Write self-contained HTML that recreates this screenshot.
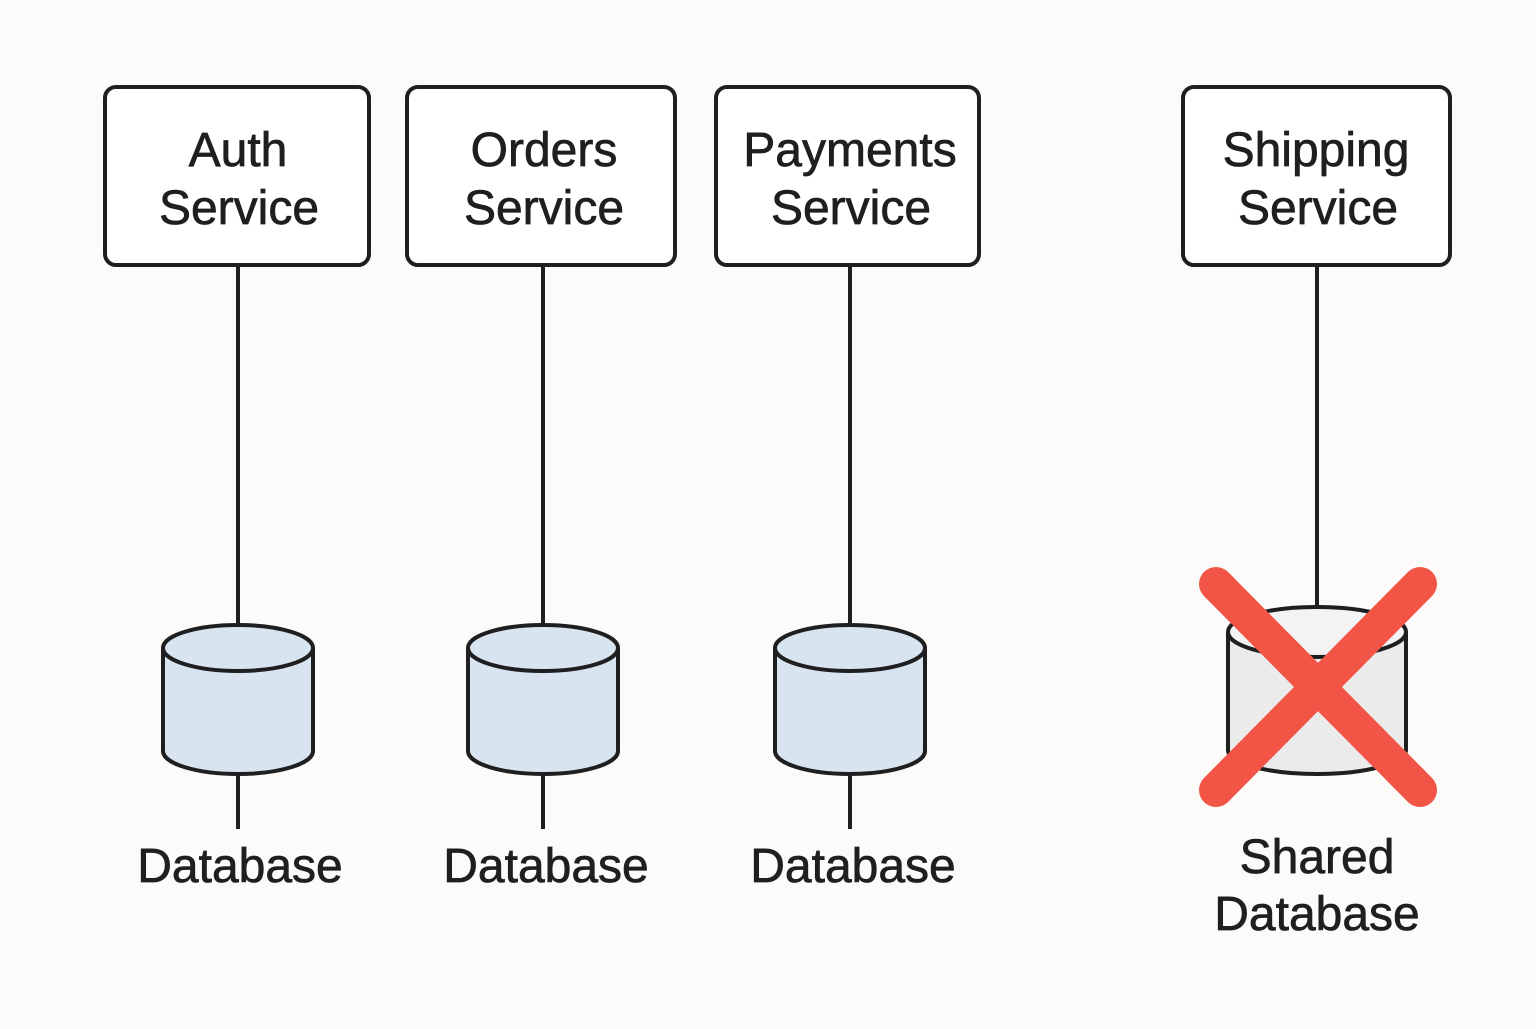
<!DOCTYPE html>
<html><head><style>html,body{margin:0;padding:0;background:#fcfbf9;}</style></head><body>
<svg width="1536" height="1024" viewBox="0 0 1536 1024" xmlns="http://www.w3.org/2000/svg">
<rect width="1536" height="1024" fill="#fcfbf9"/>
<g fill="#fff" stroke="#1f1f1f" stroke-width="4">
<rect x="105" y="87" width="264" height="178" rx="11"/>
<rect x="407" y="87" width="268" height="178" rx="11"/>
<rect x="716" y="87" width="263" height="178" rx="11"/>
<rect x="1183" y="87" width="267" height="178" rx="11"/>
</g>
<g stroke="#1f1f1f" stroke-width="4">
<line x1="238" y1="265" x2="238" y2="626"/><line x1="238" y1="774" x2="238" y2="829"/>
<line x1="543" y1="265" x2="543" y2="626"/><line x1="543" y1="774" x2="543" y2="829"/>
<line x1="850" y1="265" x2="850" y2="626"/><line x1="850" y1="774" x2="850" y2="829"/>
<line x1="1317" y1="265" x2="1317" y2="608"/>
</g>
<g stroke="#1f1f1f" stroke-width="4" fill="#d8e5f1">
<path d="M163 648 V751 A75 23 0 0 0 313 751 V648"/><ellipse cx="238" cy="648" rx="75" ry="23"/>
<path d="M468 648 V751 A75 23 0 0 0 618 751 V648"/><ellipse cx="543" cy="648" rx="75" ry="23"/>
<path d="M775 648 V751 A75 23 0 0 0 925 751 V648"/><ellipse cx="850" cy="648" rx="75" ry="23"/>
</g>
<g stroke="#1f1f1f" stroke-width="4" fill="#ebebeb">
<path d="M1228 632 V750 A89 24 0 0 0 1406 750 V632"/><ellipse cx="1317" cy="632" rx="89" ry="25" fill="#f3f3f3"/>
</g>
<g stroke="#f25546" stroke-width="34" stroke-linecap="round">
<line x1="1216" y1="584" x2="1420" y2="790"/>
<line x1="1420" y1="584" x2="1216" y2="790"/>
</g>
<g font-family="'Liberation Sans', 'DejaVu Sans', sans-serif" font-size="48" fill="#1f1f1f" stroke="#1f1f1f" stroke-width="0.7" text-anchor="middle">
<text x="238" y="166">Auth</text><text x="239" y="224">Service</text>
<text x="544" y="166">Orders</text><text x="544" y="224">Service</text>
<text x="850" y="166">Payments</text><text x="851" y="224">Service</text>
<text x="1316" y="166">Shipping</text><text x="1318" y="224">Service</text>
<text x="240" y="882">Database</text>
<text x="546" y="882">Database</text>
<text x="853" y="882">Database</text>
<text x="1317" y="873">Shared</text><text x="1317" y="930">Database</text>
</g>
</svg>
</body></html>
